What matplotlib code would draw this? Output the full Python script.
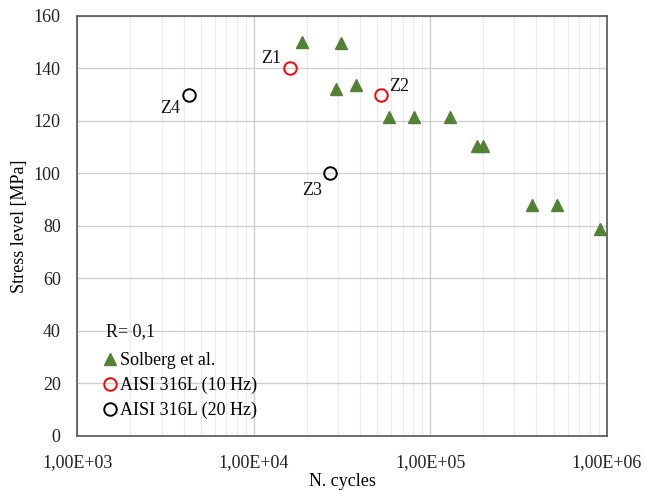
import matplotlib
matplotlib.use("Agg")
import matplotlib.pyplot as plt
from matplotlib.ticker import FixedLocator, LogLocator, NullFormatter

plt.rcParams['font.family'] = ['Liberation Serif', 'DejaVu Serif']

# Data
solberg_cycles = [18700, 31300, 29100, 37900, 58600, 80900, 129000, 183000, 200000, 378000, 520000, 915000]
solberg_stress = [150, 149.5, 132, 133.5, 121.3, 121.3, 121.3, 110.4, 110.4, 87.8, 87.8, 78.9]
aisi10_cycles = [16000, 52600]
aisi10_stress = [140, 130]
aisi10_labels = ["Z1", "Z2"]
aisi20_cycles = [27100, 4290]
aisi20_stress = [100, 130]
aisi20_labels = ["Z3", "Z4"]
xtick_values = [1e3, 1e4, 1e5, 1e6]
xtick_labels = ["1,00E+03", "1,00E+04", "1,00E+05", "1,00E+06"]
ytick_values = [0, 20, 40, 60, 80, 100, 120, 140, 160]

fig = plt.figure(figsize=(6.46, 4.91), dpi=100)
ax = fig.add_axes([0.1197, 0.1128, 0.8194, 0.8548])

ax.set_xscale('log')
ax.set_xlim(1e3, 1e6)
ax.set_ylim(0, 160)

ax.xaxis.set_major_locator(FixedLocator(xtick_values))
ax.set_xticks(xtick_values)
ax.set_xticklabels(xtick_labels)
ax.xaxis.set_minor_locator(LogLocator(base=10, subs=range(2, 10)))
ax.xaxis.set_minor_formatter(NullFormatter())
ax.set_yticks(ytick_values)
ax.set_yticklabels([str(v) for v in ytick_values])

ax.grid(True, which='major', axis='both', color='#D0D0D0', linewidth=1.0)
ax.grid(True, which='minor', axis='x', color='#EBEBEB', linewidth=0.9)
ax.set_axisbelow(True)
ax.tick_params(which='both', length=0, labelsize=13, colors='#222222')
ax.tick_params(axis='x', pad=13)
ax.tick_params(axis='y', pad=12)
for s in ax.spines.values():
    s.set_color('#555555')
    s.set_linewidth(1.2)

ax.plot(solberg_cycles, solberg_stress, linestyle='none', marker='^', markersize=9,
        color='#538135', label='Solberg et al.')
ax.plot(aisi10_cycles, aisi10_stress, linestyle='none', marker='o', markersize=9,
        markerfacecolor='none', markeredgecolor='#FF0000', markeredgewidth=1.4,
        label='AISI 316L (10 Hz)')
ax.plot(aisi20_cycles, aisi20_stress, linestyle='none', marker='o', markersize=9,
        markerfacecolor='none', markeredgecolor='#000000', markeredgewidth=1.4,
        label='AISI 316L (20 Hz)')

offsets = {"Z1": (-6, 1, 'right', 'bottom'), "Z2": (6, 0, 'left', 'bottom'),
           "Z3": (-6, -6, 'right', 'top'), "Z4": (-6, -4, 'right', 'top')}
for lab, x, y in zip(aisi10_labels + aisi20_labels, aisi10_cycles + aisi20_cycles,
                     aisi10_stress + aisi20_stress):
    dx, dy, ha, va = offsets[lab]
    ax.annotate(lab, (x, y), xytext=(dx, dy), textcoords='offset points',
                ha=ha, va=va, fontsize=13, color='#111111')

ax.legend(loc='lower left', bbox_to_anchor=(0.028, 0.0095), frameon=False,
          fontsize=13, handlelength=0.6, handletextpad=0.25, labelspacing=0.42,
          borderaxespad=0.3)
fig.text(106 / 646, 1 - 332 / 491, 'R= 0,1', fontsize=13, ha='left', va='center',
         color='#111111')

ax.set_xlabel('N. cycles', fontsize=13, labelpad=2)
ax.set_ylabel('Stress level [MPa]', fontsize=13, labelpad=4)

fig.savefig('out.png', dpi=100)
